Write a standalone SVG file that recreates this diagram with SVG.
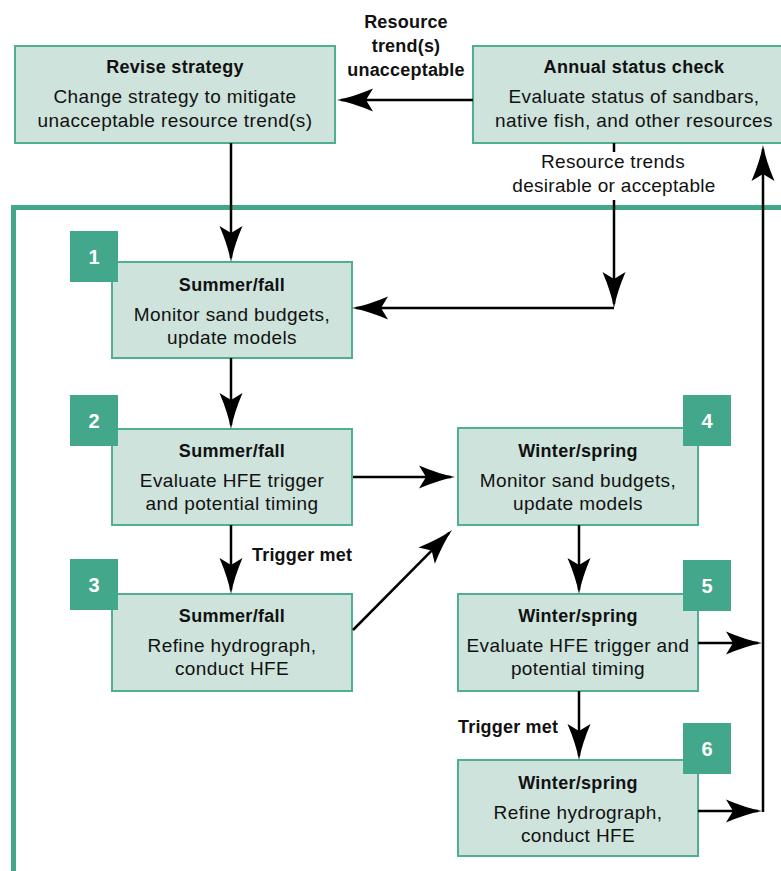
<svg xmlns="http://www.w3.org/2000/svg" width="781" height="871" viewBox="0 0 781 871">
<defs>
<style>
.box{fill:#cde3db;stroke:#4fae93;stroke-width:2}
.badge{fill:#43a78b}
.num{font-family:"Liberation Sans",Arial,sans-serif;font-weight:bold;font-size:20px;fill:#fff;text-anchor:middle}
.t{font-family:"Liberation Sans",Arial,sans-serif;font-weight:bold;font-size:18px;fill:#111;text-anchor:middle;letter-spacing:0.3px}
.b{font-family:"Liberation Sans",Arial,sans-serif;font-size:19px;fill:#111;text-anchor:middle;letter-spacing:0.4px}
.lab{font-family:"Liberation Sans",Arial,sans-serif;font-weight:bold;font-size:18px;fill:#111;letter-spacing:0.2px}
.labr{font-family:"Liberation Sans",Arial,sans-serif;font-size:19px;fill:#111;text-anchor:middle;letter-spacing:0.3px}
.c{fill:none;stroke:#000;stroke-width:2.5}
.a{marker-end:url(#ah)}
</style>
<marker id="ah" markerUnits="userSpaceOnUse" viewBox="-34 -13 40 26" refX="0" refY="0" markerWidth="40" markerHeight="26" orient="auto" overflow="visible">
<path d="M4,0 Q-12,-3 -32,-11.5 L-25,0 L-32,11.5 Q-12,3 4,0 Z" fill="#000"/>
</marker>
</defs>
<rect width="781" height="871" fill="#fff"/>
<path id="frame" d="M13.5,871 V207.5 H781" fill="none" stroke="#43a78b" stroke-width="5"/>

<g id="revise">
<rect class="box" x="15" y="46" width="320" height="97"/>
<text class="t" x="175" y="73">Revise strategy</text>
<text class="b" x="175" y="103">Change strategy to mitigate</text>
<text class="b" x="175" y="127">unacceptable resource trend(s)</text>
</g>
<g id="annual">
<rect class="box" x="473" y="46" width="322" height="97"/>
<text class="t" x="634" y="73">Annual status check</text>
<text class="b" x="634" y="103">Evaluate status of sandbars,</text>
<text class="b" x="634" y="127">native fish, and other resources</text>
</g>

<g id="n1">
<rect class="box" x="112" y="262" width="240" height="96"/>
<rect class="badge" x="70" y="231" width="48" height="51"/>
<text class="num" x="94" y="264">1</text>
<text class="t" x="232" y="291">Summer/fall</text>
<text class="b" x="232" y="321">Monitor sand budgets,</text>
<text class="b" x="232" y="344">update models</text>
</g>
<g id="n2">
<rect class="box" x="112" y="429" width="240" height="96"/>
<rect class="badge" x="70" y="395" width="48" height="51"/>
<text class="num" x="94" y="428">2</text>
<text class="t" x="232" y="457">Summer/fall</text>
<text class="b" x="232" y="487">Evaluate HFE trigger</text>
<text class="b" x="232" y="510">and potential timing</text>
</g>
<g id="n3">
<rect class="box" x="112" y="594" width="240" height="97"/>
<rect class="badge" x="70" y="559" width="48" height="51"/>
<text class="num" x="94" y="592">3</text>
<text class="t" x="232" y="622">Summer/fall</text>
<text class="b" x="232" y="652">Refine hydrograph,</text>
<text class="b" x="232" y="675">conduct HFE</text>
</g>
<g id="n4">
<rect class="box" x="458" y="428" width="240" height="97"/>
<rect class="badge" x="683" y="395" width="48" height="51"/>
<text class="num" x="707" y="428">4</text>
<text class="t" x="578" y="457">Winter/spring</text>
<text class="b" x="578" y="487">Monitor sand budgets,</text>
<text class="b" x="578" y="510">update models</text>
</g>
<g id="n5">
<rect class="box" x="458" y="594" width="240" height="97"/>
<rect class="badge" x="683" y="560" width="48" height="51"/>
<text class="num" x="707" y="593">5</text>
<text class="t" x="578" y="622">Winter/spring</text>
<text class="b" x="578" y="652">Evaluate HFE trigger and</text>
<text class="b" x="578" y="675">potential timing</text>
</g>
<g id="n6">
<rect class="box" x="458" y="760" width="240" height="96"/>
<rect class="badge" x="683" y="723" width="48" height="51"/>
<text class="num" x="707" y="756">6</text>
<text class="t" x="578" y="789">Winter/spring</text>
<text class="b" x="578" y="819">Refine hydrograph,</text>
<text class="b" x="578" y="842">conduct HFE</text>
</g>

<g id="connectors">
<path class="c a" d="M473,100 H341"/>
<path class="c a" d="M231,143 V258"/>
<path class="c" d="M614,143 V152"/>
<path class="c a" d="M614,200 V304"/>
<path class="c a" d="M614,308 H356"/>
<path class="c a" d="M231,358 V425"/>
<path class="c a" d="M231,525 V590"/>
<path class="c a" d="M353,477 H451"/>
<path class="c a" d="M353,630 L449.2,532.8"/>
<path class="c a" d="M579,525 V590"/>
<path class="c a" d="M579,691 V756"/>
<path class="c a" d="M698,643 H758"/>
<path class="c a" d="M698,811 H758"/>
<path class="c a" d="M763,812 V149"/>
</g>

<g id="labels">
<text class="lab" x="406" y="28" text-anchor="middle">Resource</text>
<text class="lab" x="406" y="52" text-anchor="middle">trend(s)</text>
<text class="lab" x="406" y="76" text-anchor="middle">unacceptable</text>
<text class="labr" x="613" y="168">Resource trends</text>
<text class="labr" x="614" y="192">desirable or acceptable</text>
<text class="lab" x="252" y="561">Trigger met</text>
<text class="lab" x="458" y="733">Trigger met</text>
</g>
</svg>
